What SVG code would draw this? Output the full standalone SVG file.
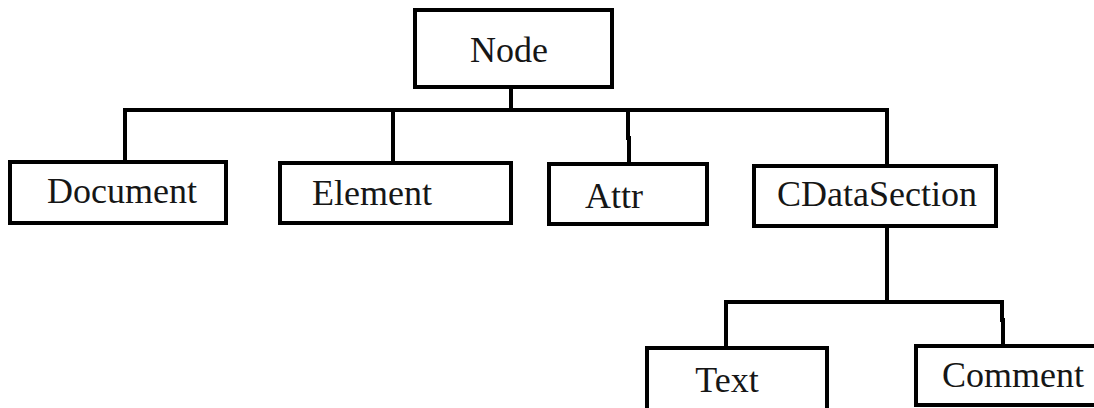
<svg xmlns="http://www.w3.org/2000/svg" width="1094" height="408" viewBox="0 0 1094 408">
  <style>
    .box { fill: #ffffff; stroke: #000000; stroke-width: 4; }
    .lbl { font-family: "Liberation Serif", "Times New Roman", serif; font-size: 36px; fill: #161616; text-anchor: middle; }
    .wire { fill: none; stroke: #000000; stroke-width: 4; stroke-linejoin: miter; stroke-linecap: square; }
  </style>
  <rect width="1094" height="408" fill="#ffffff"/>

  <!-- connectors: class hierarchy tree -->
  <g id="connectors">
    <path class="wire" d="M511 87 V110"/>
    <path class="wire" d="M125 162 V110 H887 V164"/>
    <path class="wire" d="M393 110 V163"/>
    <path class="wire" d="M628 110 V138 H629 V164"/>
    <path class="wire" d="M887 226 V302"/>
    <path class="wire" d="M726 348 V302 H1002 V320 H1003 V346"/>
  </g>

  <g id="node-node">
    <rect class="box" x="415" y="10" width="197" height="77"/>
    <text class="lbl" x="509" y="62">Node</text>
  </g>
  <g id="node-document">
    <rect class="box" x="10" y="162" width="216" height="61"/>
    <text class="lbl" x="122" y="203">Document</text>
  </g>
  <g id="node-element">
    <rect class="box" x="280" y="163" width="231" height="60"/>
    <text class="lbl" x="372" y="205">Element</text>
  </g>
  <g id="node-attr">
    <rect class="box" x="549" y="164" width="158" height="60"/>
    <text class="lbl" x="614" y="208">Attr</text>
  </g>
  <g id="node-cdatasection">
    <rect class="box" x="754" y="166" width="242" height="60"/>
    <text class="lbl" x="877" y="206">CDataSection</text>
  </g>
  <g id="node-text">
    <rect class="box" x="647" y="348" width="180" height="70"/>
    <text class="lbl" x="727" y="392">Text</text>
  </g>
  <g id="node-comment">
    <rect class="box" x="916" y="346" width="190" height="59"/>
    <text class="lbl" x="1013" y="387">Comment</text>
  </g>
</svg>
